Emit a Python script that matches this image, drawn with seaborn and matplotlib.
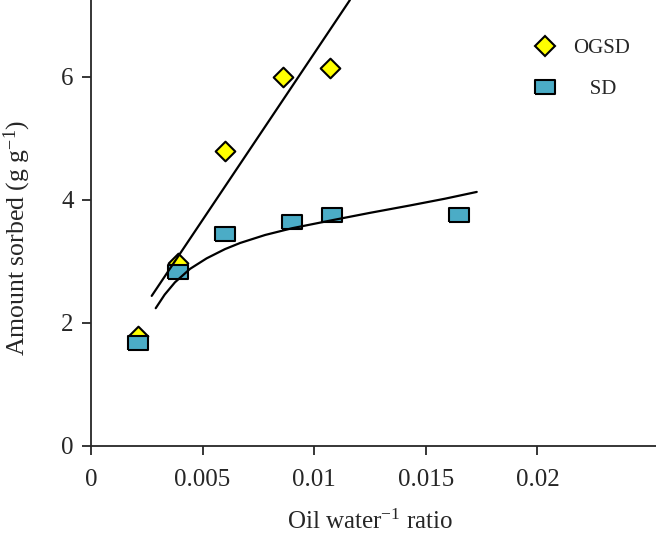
import numpy as np
import matplotlib
matplotlib.use('Agg')
import matplotlib.pyplot as plt
from matplotlib.lines import Line2D
import seaborn as sns

# ── data ──
ogsd_x = [0.0021, 0.0039, 0.0060, 0.0086, 0.0107]
ogsd_y = [1.78, 2.98, 4.79, 6.00, 6.15]

sd_x = [0.0021, 0.0039, 0.0060, 0.0090, 0.0108, 0.0165]
sd_y = [1.67, 2.83, 3.45, 3.64, 3.75, 3.75]

# fitted lines (traced)
lin_x = [0.00272, 0.0116]
lin_y = [2.44, 7.25]
curve_x = [0.00290, 0.00330, 0.00376, 0.00444, 0.00518, 0.00600, 0.00668,
           0.00780, 0.00901, 0.01080, 0.01250, 0.01429, 0.01586, 0.01728]
curve_y = [2.24, 2.46, 2.66, 2.88, 3.05, 3.20, 3.30,
           3.43, 3.54, 3.67, 3.79, 3.91, 4.02, 4.13]

xticks = [0, 0.005, 0.01, 0.015, 0.02]
xtick_labels = ['0', '0.005', '0.01', '0.015', '0.02']
yticks = [0, 2, 4, 6]

sns.set_style('ticks')
plt.rcParams['font.family'] = ['Liberation Serif', 'DejaVu Serif']
plt.rcParams['mathtext.fontset'] = 'custom'
plt.rcParams['mathtext.rm'] = 'Liberation Serif'
plt.rcParams['mathtext.it'] = 'Liberation Serif:italic'

yellow = '#ffff00'
blue = '#4bacc6'
rect = [(-1.35, -1), (1.35, -1), (1.35, 1), (-1.35, 1), (-1.35, -1)]

fig = plt.figure(figsize=(6.56, 5.37), dpi=100)
ax = fig.add_axes([0.1387, 0.1695, 0.8613, 0.8305])

sns.scatterplot(x=ogsd_x, y=ogsd_y, marker='D', s=100, color=yellow,
                edgecolor='black', linewidth=1.5, ax=ax, zorder=3)
sns.scatterplot(x=sd_x, y=sd_y, marker=rect, s=200, color=blue,
                edgecolor='black', linewidth=1.5, ax=ax, zorder=4)
sns.lineplot(x=lin_x, y=lin_y, color='black', lw=1.6, sort=False,
             estimator=None, ax=ax, zorder=5)
sns.lineplot(x=curve_x, y=curve_y, color='black', lw=1.6, sort=False,
             estimator=None, ax=ax, zorder=5)

ax.set_xlim(0, 0.02531)
ax.set_ylim(0, 7.25)
ax.set_xticks(xticks)
ax.set_xticklabels(xtick_labels)
ax.set_yticks(yticks)
ax.tick_params(direction='out', length=6.5, width=1.3, labelsize=18, pad=6)
ax.tick_params(axis='x', pad=10)
for side in ['left', 'bottom']:
    ax.spines[side].set_linewidth(1.3)
sns.despine(ax=ax)

ax.set_xlabel(r'Oil water$^{-1}$ ratio', fontsize=18)
ax.set_ylabel(r'Amount sorbed (g g$^{-1}$)', fontsize=18.5)
ax.xaxis.set_label_coords(0.494, -0.144)
ax.yaxis.set_label_coords(-0.103, 0.466)

handles = [
    Line2D([], [], ls='none', marker='D', ms=10, mfc=yellow, mec='black', mew=1.5),
    Line2D([], [], ls='none', marker=rect, ms=14, mfc=blue, mec='black', mew=1.5),
]
ax.legend(handles, ['OGSD', '   SD'], loc='upper left', frameon=False,
          bbox_to_anchor=(0.787, 0.963), bbox_transform=fig.transFigure,
          fontsize=15, handlelength=1.0, handletextpad=0.85, labelspacing=1.04)

fig.savefig('out.png', dpi=100)
